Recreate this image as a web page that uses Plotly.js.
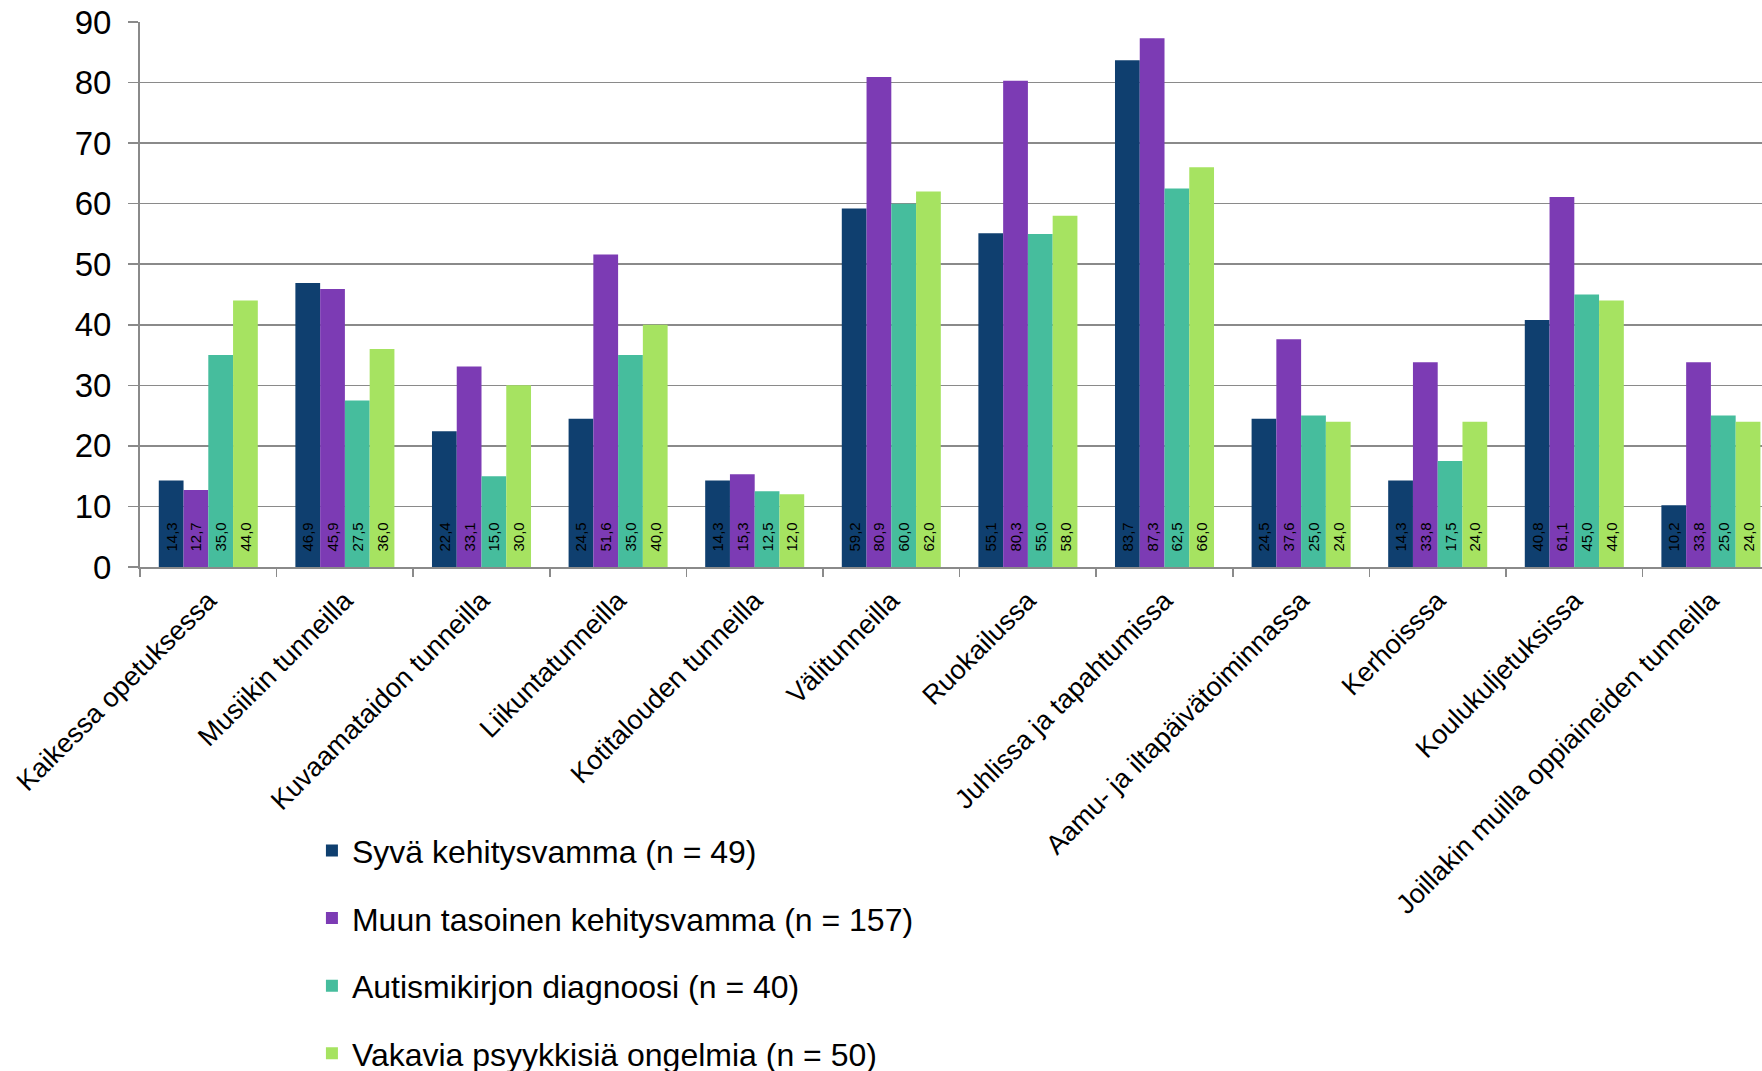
<!DOCTYPE html>
<html>
<head>
<meta charset="utf-8">
<script src="https://cdn.plot.ly/plotly-3.0.1.min.js"></script>
<style>html,body{margin:0;padding:0;background:#fff;}#chart{width:1762px;height:1071px;}</style>
</head>
<body>
<div id="chart"></div>
<script>
const categories = [
  "Kaikessa opetuksessa",
  "Musiikin tunneilla",
  "Kuvaamataidon tunneilla",
  "Liikuntatunneilla",
  "Kotitalouden tunneilla",
  "Välitunneilla",
  "Ruokailussa",
  "Juhlissa ja tapahtumissa",
  "Aamu- ja iltapäivätoiminnassa",
  "Kerhoisssa",
  "Koulukuljetuksissa",
  "Joillakin muilla oppiaineiden tunneilla"
];
const seriesNames = [
  "Syvä kehitysvamma (n = 49)",
  "Muun tasoinen kehitysvamma (n = 157)",
  "Autismikirjon diagnoosi (n = 40)",
  "Vakavia psyykkisiä ongelmia (n = 50)"
];
const syva     = [14.3, 46.9, 22.4, 24.5, 14.3, 59.2, 55.1, 83.7, 24.5, 14.3, 40.8, 10.2];
const muun     = [12.7, 45.9, 33.1, 51.6, 15.3, 80.9, 80.3, 87.3, 37.6, 33.8, 61.1, 33.8];
const autismi  = [35.0, 27.5, 15.0, 35.0, 12.5, 60.0, 55.0, 62.5, 25.0, 17.5, 45.0, 25.0];
const psyyk    = [44.0, 36.0, 30.0, 40.0, 12.0, 62.0, 58.0, 66.0, 24.0, 24.0, 44.0, 24.0];
const seriesValues = [syva, muun, autismi, psyyk];
const colors = ["#0f3f6f", "#7c3bb4", "#46bd9d", "#a6e361"];
const yTicks = [0, 10, 20, 30, 40, 50, 60, 70, 80, 90];

const FONT = "Liberation Sans, Arial, sans-serif";

const traces = seriesValues.map((vals, i) => ({
  type: "bar",
  name: seriesNames[i],
  x: categories,
  y: vals,
  marker: { color: colors[i], line: { width: 0 } },
  text: vals.map(v => v.toFixed(1).replace(".", ",")),
  texttemplate: "\u00a0\u00a0\u00a0%{text}",
  textposition: "inside",
  insidetextanchor: "start",
  textangle: -90,
  textfont: { family: FONT, size: 15, color: "#000" },
  constraintext: "none",
  legendgroup: "g" + i,
  hoverinfo: "skip"
}));

const layout = {
  width: 1762,
  height: 1071,
  margin: { l: 140, r: 0, t: 22, b: 504, pad: 0, autoexpand: false },
  paper_bgcolor: "#fff",
  plot_bgcolor: "#fff",
  barmode: "group",
  bargap: 0.275,
  bargroupgap: 0,
  uniformtext: { mode: "show", minsize: 15 },
  font: { family: FONT, color: "#000" },
  showlegend: true,
  legend: {
    orientation: "v",
    x: 0.106,
    xanchor: "left",
    y: -0.47,
    yanchor: "top",
    font: { family: FONT, size: 32, color: "#000" },
    tracegroupgap: 23,
    bgcolor: "rgba(0,0,0,0)",
    itemclick: false
  },
  xaxis: {
    type: "category",
    range: [-0.5, 11.374],
    automargin: false,
    tickangle: -45,
    tickfont: { family: FONT, size: 27, color: "#000" },
    ticklabelstandoff: 5,
    ticks: "outside",
    tickson: "boundaries",
    ticklen: 8,
    tickwidth: 1.5,
    tickcolor: "#8a8a8a",
    showline: true,
    linecolor: "#8a8a8a",
    linewidth: 2,
    showgrid: false,
    zeroline: false,
    fixedrange: true
  },
  yaxis: {
    range: [0, 90],
    automargin: false,
    tickvals: yTicks,
    ticktext: yTicks.map(String),
    tickfont: { family: FONT, size: 33, color: "#000" },
    ticklabelstandoff: 10,
    ticks: "outside",
    ticklen: 10,
    tickwidth: 1.5,
    tickcolor: "#8a8a8a",
    showline: true,
    linecolor: "#8a8a8a",
    linewidth: 2,
    showgrid: true,
    gridcolor: "#8a8a8a",
    gridwidth: 1.5,
    zeroline: false,
    fixedrange: true
  }
};

Plotly.newPlot("chart", traces, layout, { displayModeBar: false, staticPlot: true });
</script>
</body>
</html>
